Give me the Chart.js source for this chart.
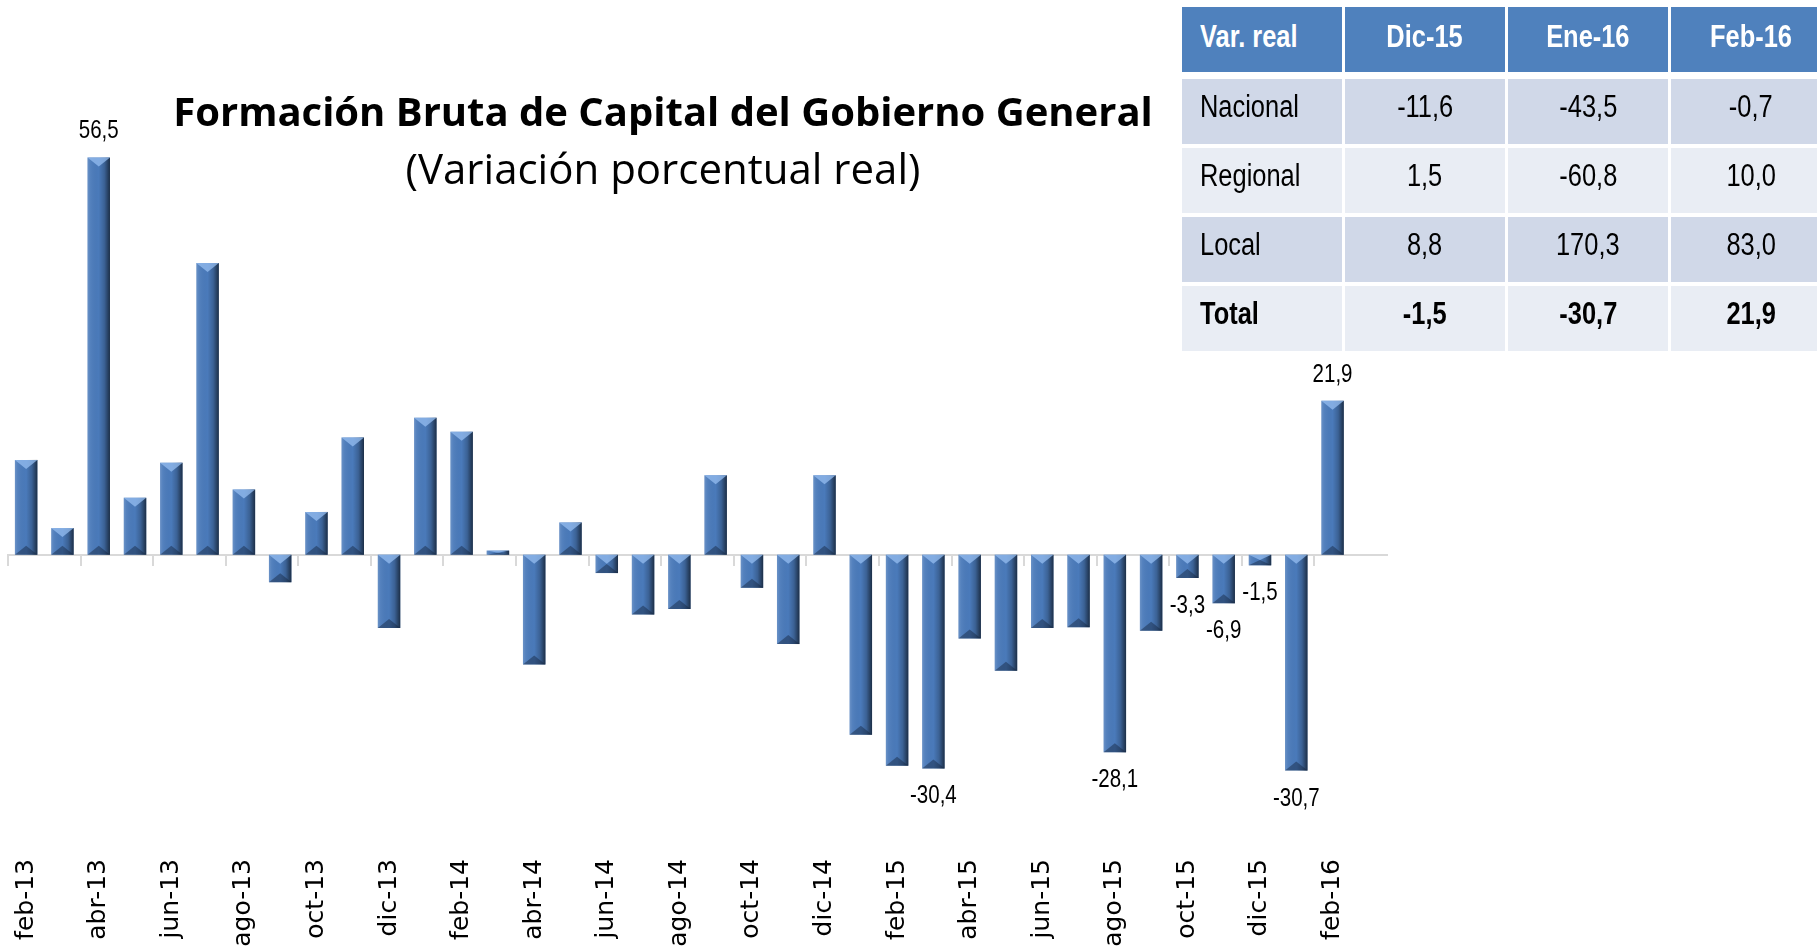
<!DOCTYPE html>
<html>
<head>
<meta charset="utf-8">
<script src="https://cdn.jsdelivr.net/npm/chart.js@4.4.1/dist/chart.umd.min.js"></script>
<style>
  html, body { margin: 0; padding: 0; background: #fff; overflow: hidden; }
  body { width: 1817px; height: 946px; position: relative; }
  #chartBox { position: absolute; left: 0; top: 0; width: 1422px; height: 946px; }
  .title { position: absolute; left: 0; width: 1326px; text-align: center; color: #000; font-family: "Open Sans", Lato, sans-serif; white-space: nowrap; }
  #t1 { top: 86px; font-size: 40px; font-weight: bold; line-height: 50px; }
  #t2 { top: 143px; font-size: 42px; font-weight: normal; line-height: 50px; }
  #tabla { position: absolute; left: 1179px; top: 3px; width: 655px; table-layout: fixed; border-collapse: separate; border-spacing: 3px 4px;
           font-family: "Liberation Sans Narrow", "Arial Narrow", "Liberation Sans", sans-serif; font-size: 31px; }
  #tabla td, #tabla th { width: 160px; height: 65px; padding: 0 0 10px 0; text-align: center; box-sizing: border-box; white-space: nowrap; }
  #tabla th { background: #4f81bd; color: #fff; font-weight: bold; padding-bottom: 6px; }
  #tabla tr.cab th { border-bottom: 3px solid #fff; height: 68px; }
  #tabla td:first-child, #tabla th:first-child { text-align: left; padding-left: 18px; }
  #tabla tr.a td { background: #d0d8e8; }
  #tabla tr.b td { background: #e9edf4; }
  #tabla tr.tot td { font-weight: bold; }
  #tabla span { display: inline-block; transform: scaleX(0.82); transform-origin: center; }
  #tabla td:first-child span, #tabla th:first-child span { transform-origin: left center; }
</style>
</head>
<body>
<div id="chartBox"><canvas id="grafico"></canvas></div>
<div class="title" id="t1">Formación Bruta de Capital del Gobierno General</div>
<div class="title" id="t2">(Variación porcentual real)</div>
<table id="tabla"></table>
<script>
// Meses (el último es un hueco vacío al final del eje)
const meses = [
  'feb-13', 'mar-13', 'abr-13', 'may-13', 'jun-13', 'jul-13', 'ago-13', 'sep-13', 'oct-13', 'nov-13', 'dic-13',
  'ene-14', 'feb-14', 'mar-14', 'abr-14', 'may-14', 'jun-14', 'jul-14', 'ago-14', 'sep-14', 'oct-14', 'nov-14', 'dic-14',
  'ene-15', 'feb-15', 'mar-15', 'abr-15', 'may-15', 'jun-15', 'jul-15', 'ago-15', 'sep-15', 'oct-15', 'nov-15', 'dic-15',
  'ene-16', 'feb-16', ''
];

// Variación porcentual real
const variacion = [
  13.5, 3.8, 56.5, 8.1, 13.1, 41.5, 9.3, -3.9, 6.1, 16.7, -10.4,
  19.5, 17.5, 0.6, -15.6, 4.6, -2.6, -8.5, -7.7, 11.3, -4.7, -12.7, 11.3,
  -25.6, -30.0, -30.4, -11.9, -16.5, -10.4, -10.3, -28.1, -10.8, -3.3, -6.9, -1.5,
  -30.7, 21.9, null
];

// Meses con etiqueta de valor
const mesesEtiquetados = ['abr-13', 'mar-15', 'ago-15', 'oct-15', 'nov-15', 'dic-15', 'ene-16', 'feb-16'];

// Tabla resumen
const tablaCabecera = ['Var. real', 'Dic-15', 'Ene-16', 'Feb-16'];
const tablaFilas = ['Nacional', 'Regional', 'Local', 'Total'];
const tablaValores = [
  ['-11,6', '-43,5', '-0,7'],
  ['1,5', '-60,8', '10,0'],
  ['8,8', '170,3', '83,0'],
  ['-1,5', '-30,7', '21,9']
];

function buildTable() {
  const t = document.getElementById('tabla');
  let html = '<tr class="cab">' + tablaCabecera.map(h => `<th><span>${h}</span></th>`).join('') + '</tr>';
  tablaFilas.forEach((f, i) => {
    const cls = (i % 2 === 0 ? 'a' : 'b') + (f === 'Total' ? ' tot' : '');
    html += `<tr class="${cls}"><td><span>${f}</span></td>` + tablaValores[i].map(v => `<td><span>${v}</span></td>`).join('') + '</tr>';
  });
  t.innerHTML = html;
}

const fmt = v => v.toFixed(1).replace('.', ',');

// relieve de las barras
const biselPlugin = {
  id: 'bisel',
  afterDatasetsDraw(chart) {
    const ctx = chart.ctx;
    const meta = chart.getDatasetMeta(0);
    ctx.save();
    meta.data.forEach((bar, i) => {
      if (variacion[i] == null) return;
      const p = bar.getProps(['x', 'y', 'base', 'width'], true);
      const l = p.x - p.width / 2, r = p.x + p.width / 2;
      const top = Math.min(p.y, p.base), bot = Math.max(p.y, p.base);
      const h = bot - top;
      const g = ctx.createLinearGradient(l, 0, r, 0);
      g.addColorStop(0, 'rgba(255,255,255,0.18)');
      g.addColorStop(0.12, 'rgba(255,255,255,0.06)');
      g.addColorStop(0.5, 'rgba(0,0,0,0)');
      g.addColorStop(0.75, 'rgba(0,0,0,0.2)');
      g.addColorStop(1, 'rgba(0,0,0,0.62)');
      ctx.fillStyle = g;
      ctx.fillRect(l, top, p.width, h);
      const d = Math.min(9, h / 2);
      ctx.fillStyle = 'rgba(150,190,240,0.75)';
      ctx.beginPath();
      ctx.moveTo(l, top); ctx.lineTo(r, top); ctx.lineTo(p.x, top + d); ctx.closePath();
      ctx.fill();
      ctx.fillStyle = 'rgba(20,35,60,0.45)';
      ctx.beginPath();
      ctx.moveTo(l, bot); ctx.lineTo(r, bot); ctx.lineTo(p.x, bot - d); ctx.closePath();
      ctx.fill();
    });
    ctx.restore();
  }
};

// valores sobre/bajo algunas barras (letra estrecha)
const etiquetasPlugin = {
  id: 'etiquetas',
  afterDatasetsDraw(chart) {
    const ctx = chart.ctx;
    const meta = chart.getDatasetMeta(0);
    meta.data.forEach((bar, i) => {
      const v = variacion[i];
      if (v == null || !mesesEtiquetados.includes(meses[i])) return;
      const p = bar.getProps(['x', 'y'], true);
      ctx.save();
      ctx.translate(p.x, v >= 0 ? p.y - 26 : p.y + 28);
      ctx.scale(0.82, 1);
      ctx.font = '25px "Liberation Sans Narrow", "Arial Narrow", "Liberation Sans", sans-serif';
      ctx.fillStyle = '#000';
      ctx.textAlign = 'center';
      ctx.textBaseline = 'middle';
      ctx.fillText(fmt(v), 0, 0);
      ctx.restore();
    });
  }
};

buildTable();

new Chart(document.getElementById('grafico'), {
  type: 'bar',
  data: {
    labels: meses,
    datasets: [{
      data: variacion,
      backgroundColor: '#4a7aba',
      borderWidth: 0,
      barPercentage: 0.62,
      categoryPercentage: 1
    }]
  },
  options: {
    responsive: true,
    maintainAspectRatio: false,
    animation: false,
    layout: { padding: { left: 8, right: 11, top: 133, bottom: 0 } },
    plugins: { legend: { display: false }, tooltip: { enabled: false }, title: { display: false } },
    scales: {
      x: {
        grid: { display: false, drawTicks: false },
        border: { display: false },
        afterFit: scale => { scale.height = 110; },
        ticks: {
          autoSkip: false,
          minRotation: 90,
          maxRotation: 90,
          padding: 23,
          color: '#000',
          font: { family: '"DejaVu Sans"', size: 25 },
          callback: function (val, idx) { return idx % 2 === 0 ? this.getLabelForValue(val) : ''; }
        }
      },
      x2: {
        type: 'category',
        offset: true,
        position: { y: 0 },
        ticks: { display: false },
        grid: {
          offset: true,
          drawOnChartArea: false,
          tickLength: 10,
          lineWidth: 2,
          color: c => (c.index % 2 === 0 ? '#d9d9d9' : 'rgba(0,0,0,0)')
        },
        border: { color: '#d9d9d9', width: 2 }
      },
      y: {
        display: false,
        min: -40,
        max: 60
      }
    }
  },
  plugins: [biselPlugin, etiquetasPlugin]
});
</script>
</body>
</html>
